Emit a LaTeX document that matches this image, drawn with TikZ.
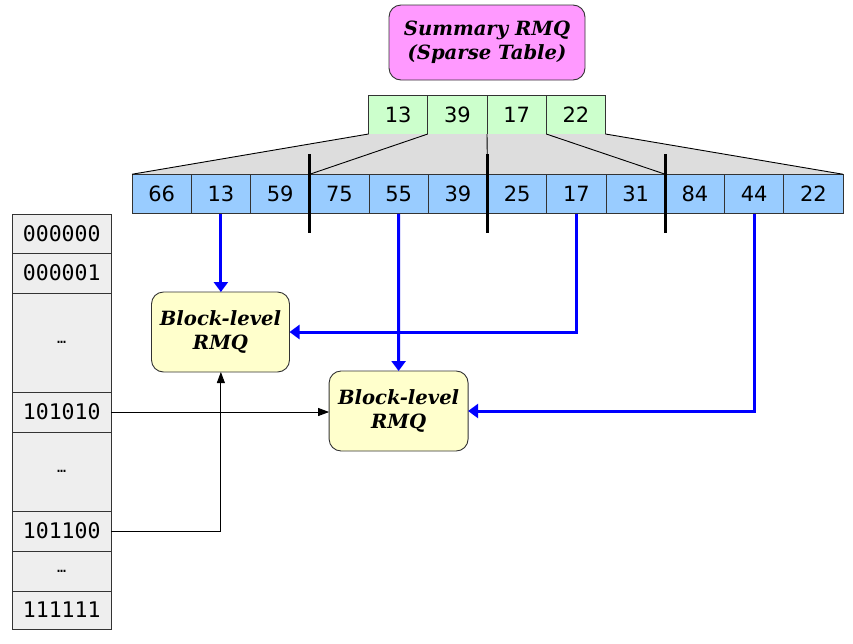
\documentclass[tikz,border=0pt]{standalone}
\usepackage{fontspec}
\setmainfont{DejaVu Serif}
\setsansfont{DejaVu Sans}
\setmonofont{DejaVu Sans Mono}
\usetikzlibrary{arrows.meta}
\definecolor{magbox}{HTML}{FF99FF}
\definecolor{greencell}{HTML}{CCFFCC}
\definecolor{bluecell}{HTML}{99CCFF}
\definecolor{trapgray}{HTML}{DDDDDD}
\definecolor{rowgray}{HTML}{EEEEEE}
\definecolor{yelbox}{HTML}{FFFFCC}
\definecolor{edge}{HTML}{333333}
\definecolor{pureblue}{HTML}{0000FF}
\begin{document}
\begin{tikzpicture}[x=1pt,y=-1pt,
  cellbase/.style={draw=edge,line width=0.9pt,inner sep=0pt,outer sep=0pt,minimum width=59.25pt,
    font=\sffamily\fontsize{21}{24}\selectfont},
  gcell/.style={cellbase,fill=greencell,minimum height=39pt},
  bcell/.style={cellbase,fill=bluecell,minimum height=39.5pt},
  rowcell/.style={draw=edge,line width=0.9pt,fill=rowgray,inner sep=0pt,outer sep=0pt,minimum width=99pt,
    font=\ttfamily\fontsize{21.5}{24}\selectfont},
  rmqbox/.style={draw=edge,line width=0.9pt,rounded corners=12pt,inner sep=0pt,outer sep=0pt,
    align=center,font=\bfseries\itshape\fontsize{19.6}{24}\selectfont},
  bluearrow/.style={draw=pureblue,line width=3pt,-{Triangle[length=10pt,width=14pt]}},
  thinarrow/.style={draw=black,line width=0.9pt,-{Triangle[length=11pt,width=8pt]}},
  sepline/.style={line width=3pt,draw=black}]
\useasboundingbox (0,0) rectangle (853,643);

% summary box
\node[rmqbox,fill=magbox,minimum width=196pt,minimum height=75pt] (sum) at (487,42.5)
  {Summary RMQ\\(Sparse Table)};

% green cells
\foreach \v [count=\i] in {13,39,17,22}
  \node[gcell] (g\i) at ({368.5+(\i-0.5)*59.25},114.5) {\v};

% blue cell coordinates (for trapezoid)
\foreach \v [count=\i] in {66,13,59,75,55,39,25,17,31,84,44,22}
  \coordinate (c\i) at ({132+(\i-0.5)*59.25},194);

% trapezoid
\fill[trapgray] (368.5,134) -- (605.5,134) -- (843,174) -- (132,174) -- cycle;

% blue cells
\foreach \v [count=\i] in {66,13,59,75,55,39,25,17,31,84,44,22}
  \node[bcell] (b\i) at (c\i) {\v};

% fan lines
\draw[line width=0.9pt] (g1.south west) -- (b1.north west);
\draw[line width=0.9pt] (g2.south west) -- (b4.north west);
\draw[line width=0.9pt] (g3.south west) -- (b7.north west);
\draw[line width=0.9pt] (g4.south west) -- (b10.north west);
\draw[line width=0.9pt] (g4.south east) -- (b12.north east);

% separators
\foreach \k in {4,7,10}
  \draw[sepline] ([yshift=20pt]b\k.north west) -- ([yshift=-19.5pt]b\k.south west);

% left column
\node[rowcell,minimum height=39pt] (r1) at (61.75,233.5) {000000};
\node[rowcell,minimum height=40pt] (r2) at (61.75,273) {000001};
\node[rowcell,minimum height=99pt] (r3) at (61.75,342.5) {\fontsize{15}{18}\selectfont …};
\node[rowcell,minimum height=40pt] (r4) at (61.75,412) {101010};
\node[rowcell,minimum height=79pt] (r5) at (61.75,471.5) {\fontsize{15}{18}\selectfont …};
\node[rowcell,minimum height=40pt] (r6) at (61.75,531) {101100};
\node[rowcell,minimum height=40pt] (r7) at (61.75,571) {\fontsize{15}{18}\selectfont …};
\node[rowcell,minimum height=38pt] (r8) at (61.75,610) {111111};

% block-level boxes
\node[rmqbox,fill=yelbox,minimum width=138pt,minimum height=80pt] (k1) at (220.5,332) {Block-level\\RMQ};
\node[rmqbox,fill=yelbox,minimum width=139pt,minimum height=80pt] (k2) at (398.6,411) {Block-level\\RMQ};

% blue arrows
\draw[bluearrow] (b2.south) -- (b2.south |- k1.north);
\draw[bluearrow] (b5.south) -- (k2.north);
\draw[bluearrow] (b8.south) |- (k1.east);
\draw[bluearrow] (b11.south) |- (k2.east);

% black arrows
\draw[thinarrow] (r4.east) -- (r4.east -| k2.west);
\draw[thinarrow] (r6.east) -| (b2.south |- k1.south);
\end{tikzpicture}
\end{document}
